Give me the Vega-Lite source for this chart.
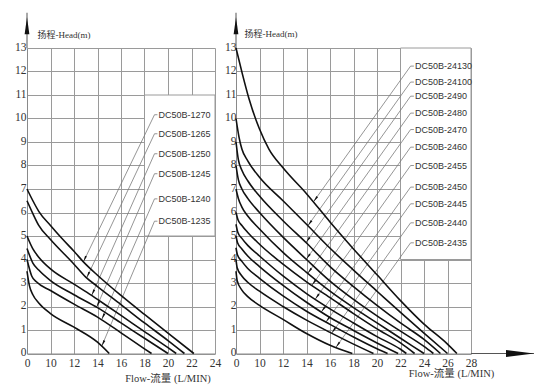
{
  "$schema": "https://vega.github.io/schema/vega-lite/v6.json",
  "padding": {"left": 14, "top": 12, "right": 0, "bottom": 0},
  "spacing": 3,
  "background": "white",
  "config": {
    "view": {"stroke": null},
    "axis": {
      "grid": true, "gridColor": "#9a9a9a", "gridWidth": 1, "gridOpacity": 1,
      "domainColor": "#8a8a8a", "domainWidth": 1, "ticks": false,
      "labelFont": "Liberation Serif", "labelFontSize": 11.5, "labelColor": "#333333",
      "titleFont": "Liberation Serif, Noto Sans CJK SC", "titleFontWeight": "normal", "titleColor": "#333333"
    }
  },
  "datasets": {
    "leftCurves": [
      {"model":"DC50B-1270","flow":0,"head":7.0},{"model":"DC50B-1270","flow":2.5,"head":6.5},{"model":"DC50B-1270","flow":5,"head":6.05},{"model":"DC50B-1270","flow":10,"head":5.45},{"model":"DC50B-1270","flow":11,"head":4.88},{"model":"DC50B-1270","flow":12,"head":4.35},{"model":"DC50B-1270","flow":12.8,"head":3.9},{"model":"DC50B-1270","flow":14,"head":3.33},{"model":"DC50B-1270","flow":16,"head":2.47},{"model":"DC50B-1270","flow":18,"head":1.66},{"model":"DC50B-1270","flow":20,"head":0.87},{"model":"DC50B-1270","flow":22.2,"head":0},
      {"model":"DC50B-1265","flow":0,"head":6.5},{"model":"DC50B-1265","flow":2.5,"head":5.95},{"model":"DC50B-1265","flow":5,"head":5.45},{"model":"DC50B-1265","flow":10,"head":4.85},{"model":"DC50B-1265","flow":12,"head":3.8},{"model":"DC50B-1265","flow":13,"head":3.25},{"model":"DC50B-1265","flow":14,"head":2.85},{"model":"DC50B-1265","flow":16,"head":2.08},{"model":"DC50B-1265","flow":18,"head":1.3},{"model":"DC50B-1265","flow":20,"head":0.55},{"model":"DC50B-1265","flow":21.4,"head":0},
      {"model":"DC50B-1250","flow":0,"head":5.0},{"model":"DC50B-1250","flow":2.5,"head":4.45},{"model":"DC50B-1250","flow":5,"head":4.1},{"model":"DC50B-1250","flow":10,"head":3.6},{"model":"DC50B-1250","flow":12,"head":2.95},{"model":"DC50B-1250","flow":13.5,"head":2.47},{"model":"DC50B-1250","flow":14,"head":2.3},{"model":"DC50B-1250","flow":16,"head":1.62},{"model":"DC50B-1250","flow":18,"head":0.93},{"model":"DC50B-1250","flow":20,"head":0.25},{"model":"DC50B-1250","flow":20.7,"head":0},
      {"model":"DC50B-1245","flow":0,"head":4.47},{"model":"DC50B-1245","flow":2.5,"head":3.85},{"model":"DC50B-1245","flow":5,"head":3.55},{"model":"DC50B-1245","flow":10,"head":3.1},{"model":"DC50B-1245","flow":12,"head":2.5},{"model":"DC50B-1245","flow":14,"head":1.95},{"model":"DC50B-1245","flow":16,"head":1.3},{"model":"DC50B-1245","flow":18,"head":0.65},{"model":"DC50B-1245","flow":20,"head":0},
      {"model":"DC50B-1240","flow":0,"head":4.0},{"model":"DC50B-1240","flow":2,"head":3.3},{"model":"DC50B-1240","flow":4,"head":3.05},{"model":"DC50B-1240","flow":10,"head":2.68},{"model":"DC50B-1240","flow":12,"head":2.1},{"model":"DC50B-1240","flow":14,"head":1.55},{"model":"DC50B-1240","flow":16,"head":0.88},{"model":"DC50B-1240","flow":18,"head":0.2},{"model":"DC50B-1240","flow":18.6,"head":0},
      {"model":"DC50B-1235","flow":0,"head":3.5},{"model":"DC50B-1235","flow":1,"head":2.9},{"model":"DC50B-1235","flow":2.5,"head":2.5},{"model":"DC50B-1235","flow":5,"head":2.15},{"model":"DC50B-1235","flow":10,"head":1.7},{"model":"DC50B-1235","flow":12,"head":1.12},{"model":"DC50B-1235","flow":14,"head":0.48},{"model":"DC50B-1235","flow":15,"head":0}
    ],
    "leftLeaders": [
      {"model":"DC50B-1270","flow":12.8,"head":3.9,"ord":0},{"model":"DC50B-1270","flow":18.85,"head":10.16,"ord":1},{"model":"DC50B-1270","flow":19.1,"head":10.16,"ord":2},
      {"model":"DC50B-1265","flow":13.08,"head":3.22,"ord":0},{"model":"DC50B-1265","flow":18.85,"head":9.35,"ord":1},{"model":"DC50B-1265","flow":19.1,"head":9.35,"ord":2},
      {"model":"DC50B-1250","flow":13.5,"head":2.47,"ord":0},{"model":"DC50B-1250","flow":18.85,"head":8.5,"ord":1},{"model":"DC50B-1250","flow":19.1,"head":8.5,"ord":2},
      {"model":"DC50B-1245","flow":13.92,"head":1.97,"ord":0},{"model":"DC50B-1245","flow":18.85,"head":7.65,"ord":1},{"model":"DC50B-1245","flow":19.1,"head":7.65,"ord":2},
      {"model":"DC50B-1240","flow":14.36,"head":1.45,"ord":0},{"model":"DC50B-1240","flow":18.85,"head":6.58,"ord":1},{"model":"DC50B-1240","flow":19.1,"head":6.58,"ord":2},
      {"model":"DC50B-1235","flow":14.36,"head":0.31,"ord":0},{"model":"DC50B-1235","flow":18.85,"head":5.63,"ord":1},{"model":"DC50B-1235","flow":19.1,"head":5.63,"ord":2}
    ],
    "rightCurves": [
      {"model":"DC50B-24130","flow":0,"head":13},{"model":"DC50B-24130","flow":2.7,"head":11.9},{"model":"DC50B-24130","flow":5.5,"head":10.85},{"model":"DC50B-24130","flow":10,"head":9.55},{"model":"DC50B-24130","flow":10.8,"head":8.7},{"model":"DC50B-24130","flow":12,"head":7.9},{"model":"DC50B-24130","flow":14,"head":6.8},{"model":"DC50B-24130","flow":16,"head":5.6},{"model":"DC50B-24130","flow":18,"head":4.45},{"model":"DC50B-24130","flow":20,"head":3.35},{"model":"DC50B-24130","flow":22,"head":2.25},{"model":"DC50B-24130","flow":24,"head":1.25},{"model":"DC50B-24130","flow":26,"head":0.4},{"model":"DC50B-24130","flow":26.8,"head":0},
      {"model":"DC50B-24100","flow":0,"head":10},{"model":"DC50B-24100","flow":1.3,"head":9.2},{"model":"DC50B-24100","flow":2.5,"head":8.7},{"model":"DC50B-24100","flow":5,"head":8.2},{"model":"DC50B-24100","flow":10,"head":7.5},{"model":"DC50B-24100","flow":12,"head":6.5},{"model":"DC50B-24100","flow":14,"head":5.5},{"model":"DC50B-24100","flow":15.92,"head":4.52},{"model":"DC50B-24100","flow":18,"head":3.55},{"model":"DC50B-24100","flow":20,"head":2.65},{"model":"DC50B-24100","flow":22,"head":1.75},{"model":"DC50B-24100","flow":24,"head":0.87},{"model":"DC50B-24100","flow":26,"head":0},
      {"model":"DC50B-2490","flow":0,"head":9},{"model":"DC50B-2490","flow":1,"head":8.25},{"model":"DC50B-2490","flow":2.5,"head":7.8},{"model":"DC50B-2490","flow":5,"head":7.35},{"model":"DC50B-2490","flow":10,"head":6.7},{"model":"DC50B-2490","flow":12,"head":5.65},{"model":"DC50B-2490","flow":14,"head":4.7},{"model":"DC50B-2490","flow":16,"head":3.7},{"model":"DC50B-2490","flow":18,"head":2.85},{"model":"DC50B-2490","flow":20,"head":2.05},{"model":"DC50B-2490","flow":22,"head":1.3},{"model":"DC50B-2490","flow":24,"head":0.6},{"model":"DC50B-2490","flow":25.4,"head":0},
      {"model":"DC50B-2480","flow":0,"head":8},{"model":"DC50B-2480","flow":1,"head":7.4},{"model":"DC50B-2480","flow":2.5,"head":7.0},{"model":"DC50B-2480","flow":5,"head":6.6},{"model":"DC50B-2480","flow":10,"head":6.0},{"model":"DC50B-2480","flow":12,"head":4.95},{"model":"DC50B-2480","flow":14,"head":4.0},{"model":"DC50B-2480","flow":16,"head":3.08},{"model":"DC50B-2480","flow":18,"head":2.3},{"model":"DC50B-2480","flow":20,"head":1.6},{"model":"DC50B-2480","flow":22,"head":0.95},{"model":"DC50B-2480","flow":24,"head":0.3},{"model":"DC50B-2480","flow":24.8,"head":0},
      {"model":"DC50B-2470","flow":0,"head":7},{"model":"DC50B-2470","flow":1,"head":6.6},{"model":"DC50B-2470","flow":2.5,"head":6.23},{"model":"DC50B-2470","flow":5,"head":5.85},{"model":"DC50B-2470","flow":10,"head":5.3},{"model":"DC50B-2470","flow":12,"head":4.3},{"model":"DC50B-2470","flow":14,"head":3.45},{"model":"DC50B-2470","flow":16,"head":2.65},{"model":"DC50B-2470","flow":18,"head":1.95},{"model":"DC50B-2470","flow":20,"head":1.3},{"model":"DC50B-2470","flow":22,"head":0.65},{"model":"DC50B-2470","flow":24,"head":0},
      {"model":"DC50B-2460","flow":0,"head":6},{"model":"DC50B-2460","flow":0.8,"head":5.7},{"model":"DC50B-2460","flow":2.5,"head":5.45},{"model":"DC50B-2460","flow":5,"head":5.15},{"model":"DC50B-2460","flow":10,"head":4.65},{"model":"DC50B-2460","flow":12,"head":3.8},{"model":"DC50B-2460","flow":14,"head":3.05},{"model":"DC50B-2460","flow":16,"head":2.38},{"model":"DC50B-2460","flow":18,"head":1.7},{"model":"DC50B-2460","flow":20,"head":1.05},{"model":"DC50B-2460","flow":22,"head":0.45},{"model":"DC50B-2460","flow":23.2,"head":0},
      {"model":"DC50B-2455","flow":0,"head":5.5},{"model":"DC50B-2455","flow":0.8,"head":5.15},{"model":"DC50B-2455","flow":2.5,"head":4.9},{"model":"DC50B-2455","flow":5,"head":4.6},{"model":"DC50B-2455","flow":10,"head":4.15},{"model":"DC50B-2455","flow":12,"head":3.3},{"model":"DC50B-2455","flow":14,"head":2.55},{"model":"DC50B-2455","flow":16,"head":1.9},{"model":"DC50B-2455","flow":18,"head":1.3},{"model":"DC50B-2455","flow":20,"head":0.72},{"model":"DC50B-2455","flow":22,"head":0.18},{"model":"DC50B-2455","flow":22.5,"head":0},
      {"model":"DC50B-2450","flow":0,"head":5},{"model":"DC50B-2450","flow":0.7,"head":4.7},{"model":"DC50B-2450","flow":2.5,"head":4.45},{"model":"DC50B-2450","flow":5,"head":4.15},{"model":"DC50B-2450","flow":10,"head":3.7},{"model":"DC50B-2450","flow":12,"head":2.9},{"model":"DC50B-2450","flow":14,"head":2.18},{"model":"DC50B-2450","flow":16,"head":1.53},{"model":"DC50B-2450","flow":18,"head":0.98},{"model":"DC50B-2450","flow":20,"head":0.45},{"model":"DC50B-2450","flow":21.8,"head":0},
      {"model":"DC50B-2445","flow":0,"head":4.5},{"model":"DC50B-2445","flow":0.6,"head":4.2},{"model":"DC50B-2445","flow":2.5,"head":3.92},{"model":"DC50B-2445","flow":5,"head":3.62},{"model":"DC50B-2445","flow":10,"head":3.2},{"model":"DC50B-2445","flow":12,"head":2.45},{"model":"DC50B-2445","flow":14,"head":1.8},{"model":"DC50B-2445","flow":16,"head":1.24},{"model":"DC50B-2445","flow":18,"head":0.7},{"model":"DC50B-2445","flow":20,"head":0.2},{"model":"DC50B-2445","flow":20.9,"head":0},
      {"model":"DC50B-2440","flow":0,"head":4},{"model":"DC50B-2440","flow":0.5,"head":3.65},{"model":"DC50B-2440","flow":2.5,"head":3.3},{"model":"DC50B-2440","flow":5,"head":3.03},{"model":"DC50B-2440","flow":10,"head":2.65},{"model":"DC50B-2440","flow":12,"head":2.0},{"model":"DC50B-2440","flow":14,"head":1.42},{"model":"DC50B-2440","flow":16,"head":0.9},{"model":"DC50B-2440","flow":18,"head":0.4},{"model":"DC50B-2440","flow":19.7,"head":0},
      {"model":"DC50B-2435","flow":0,"head":3.5},{"model":"DC50B-2435","flow":0.5,"head":3.1},{"model":"DC50B-2435","flow":2.5,"head":2.7},{"model":"DC50B-2435","flow":5,"head":2.42},{"model":"DC50B-2435","flow":10,"head":2.05},{"model":"DC50B-2435","flow":12,"head":1.45},{"model":"DC50B-2435","flow":14,"head":0.85},{"model":"DC50B-2435","flow":16,"head":0.35},{"model":"DC50B-2435","flow":17.9,"head":0}
    ],
    "rightLeaders": [
      {"model":"DC50B-24130","flow":14.6,"head":6.46,"ord":0},{"model":"DC50B-24130","flow":22.86,"head":12.23,"ord":1},{"model":"DC50B-24130","flow":23.14,"head":12.23,"ord":2},
      {"model":"DC50B-24100","flow":14.12,"head":5.44,"ord":0},{"model":"DC50B-24100","flow":22.86,"head":11.55,"ord":1},{"model":"DC50B-24100","flow":23.14,"head":11.55,"ord":2},
      {"model":"DC50B-2490","flow":13.96,"head":4.72,"ord":0},{"model":"DC50B-2490","flow":22.86,"head":10.95,"ord":1},{"model":"DC50B-2490","flow":23.14,"head":10.95,"ord":2},
      {"model":"DC50B-2480","flow":13.98,"head":4.01,"ord":0},{"model":"DC50B-2480","flow":22.86,"head":10.23,"ord":1},{"model":"DC50B-2480","flow":23.14,"head":10.23,"ord":2},
      {"model":"DC50B-2470","flow":14.1,"head":3.4,"ord":0},{"model":"DC50B-2470","flow":22.86,"head":9.53,"ord":1},{"model":"DC50B-2470","flow":23.14,"head":9.53,"ord":2},
      {"model":"DC50B-2460","flow":14.46,"head":2.9,"ord":0},{"model":"DC50B-2460","flow":22.86,"head":8.78,"ord":1},{"model":"DC50B-2460","flow":23.14,"head":8.78,"ord":2},
      {"model":"DC50B-2455","flow":14.74,"head":2.31,"ord":0},{"model":"DC50B-2455","flow":22.86,"head":8.0,"ord":1},{"model":"DC50B-2455","flow":23.14,"head":8.0,"ord":2},
      {"model":"DC50B-2450","flow":15.26,"head":1.77,"ord":0},{"model":"DC50B-2450","flow":22.86,"head":7.08,"ord":1},{"model":"DC50B-2450","flow":23.14,"head":7.08,"ord":2},
      {"model":"DC50B-2445","flow":15.66,"head":1.34,"ord":0},{"model":"DC50B-2445","flow":22.86,"head":6.37,"ord":1},{"model":"DC50B-2445","flow":23.14,"head":6.37,"ord":2},
      {"model":"DC50B-2440","flow":16.14,"head":0.86,"ord":0},{"model":"DC50B-2440","flow":22.86,"head":5.56,"ord":1},{"model":"DC50B-2440","flow":23.14,"head":5.56,"ord":2},
      {"model":"DC50B-2435","flow":16.5,"head":0.26,"ord":0},{"model":"DC50B-2435","flow":22.86,"head":4.71,"ord":1},{"model":"DC50B-2435","flow":23.14,"head":4.71,"ord":2}
    ],
    "leftBox": [{"flow":18,"flow2":24,"head":5,"head2":11}],
    "rightBox": [{"flow":22,"flow2":28,"head":4,"head2":13}],
    "yArrow": [{"flow":0,"head":13,"head2":14.5}],
    "yArrowHead": [{"flow":0,"head":13.95}],
    "xArrow": [{"flow":28,"flow2":33.36,"head":0}],
    "xArrowHead": [{"flow":32.17,"head":0}]
  },
  "hconcat": [
    {
      "width": 188,
      "height": 305.5,
      "encoding": {
        "x": {"field": "flow", "type": "quantitative",
              "scale": {"domain": [0, 10, 24], "range": [0, 23.5, 188], "nice": false, "zero": false},
              "axis": {"values": [0, 10, 12, 14, 16, 18, 20, 22, 24], "title": "Flow-流量 (L/MIN)", "titleX": 140.5, "titleY": 25, "titleAlign": "center", "titleBaseline": "middle", "titleFontSize": 10.5, "labelFlush": false, "labelPadding": 4}},
        "y": {"field": "head", "type": "quantitative",
              "scale": {"domain": [0, 13], "nice": false, "zero": true},
              "axis": {"values": [0,1,2,3,4,5,6,7,8,9,10,11,12,13], "title": "扬程-Head(m)", "titleAngle": 0, "titleX": 10, "titleY": -14, "titleAlign": "left", "titleBaseline": "middle", "titleFontSize": 9, "labelPadding": 1, "labelOffset": -1}}
      },
      "layer": [
        {"data": {"name": "leftBox"}, "mark": {"type": "rect", "fill": "white", "stroke": "#9a9a9a", "strokeWidth": 1},
         "encoding": {"x2": {"field": "flow2"}, "y2": {"field": "head2"}}},
        {"data": {"name": "leftLeaders"}, "mark": {"type": "line", "color": "#7a7a7a", "strokeWidth": 0.8},
         "encoding": {"detail": {"field": "model"}, "order": {"field": "ord", "type": "quantitative"}}},
        {"data": {"name": "leftCurves"}, "mark": {"type": "line", "color": "#111111", "strokeWidth": 1.6, "interpolate": "monotone"},
         "encoding": {"detail": {"field": "model"}}},
        {"data": {"name": "leftLeaders"}, "transform": [{"filter": "datum.ord == 0"}],
         "mark": {"type": "point", "shape": "M0,0L-0.3,-1.8L0.3,-1.8Z", "size": 49, "filled": true, "color": "#111111", "opacity": 1, "angle": 24.5}},
        {"data": {"name": "leftLeaders"}, "transform": [{"filter": "datum.ord == 2"}],
         "mark": {"type": "text", "align": "left", "baseline": "middle", "dx": 1, "font": "Liberation Sans", "fontSize": 9, "color": "#333333"},
         "encoding": {"text": {"field": "model"}}},
        {"data": {"name": "yArrow"}, "mark": {"type": "rule", "color": "#555555", "strokeWidth": 1},
         "encoding": {"y2": {"field": "head2"}}},
        {"data": {"name": "yArrowHead"}, "mark": {"type": "point", "shape": "M0,-1L0.28,1L-0.28,1Z", "size": 289, "filled": true, "color": "#111111", "opacity": 1}}
      ]
    },
    {
      "width": 235,
      "height": 305.5,
      "encoding": {
        "x": {"field": "flow", "type": "quantitative",
              "scale": {"domain": [0, 10, 28], "range": [0, 23.5, 235], "nice": false, "zero": false},
              "axis": {"values": [0, 10, 12, 14, 16, 18, 20, 22, 24, 26, 28], "title": "Flow-流量 (L/MIN)", "titleX": 215, "titleY": 20, "titleAlign": "center", "titleBaseline": "middle", "titleFontSize": 10.5, "labelFlush": false, "labelPadding": 4}},
        "y": {"field": "head", "type": "quantitative",
              "scale": {"domain": [0, 13], "nice": false, "zero": true},
              "axis": {"values": [0,1,2,3,4,5,6,7,8,9,10,11,12,13], "title": "扬程-Head(m)", "titleAngle": 0, "titleX": 8, "titleY": -15, "titleAlign": "left", "titleBaseline": "middle", "titleFontSize": 9, "labelPadding": 0, "labelOffset": -1}}
      },
      "layer": [
        {"data": {"name": "rightBox"}, "mark": {"type": "rect", "fill": "white", "stroke": "#9a9a9a", "strokeWidth": 1},
         "encoding": {"x2": {"field": "flow2"}, "y2": {"field": "head2"}}},
        {"data": {"name": "rightLeaders"}, "mark": {"type": "line", "color": "#7a7a7a", "strokeWidth": 0.8},
         "encoding": {"detail": {"field": "model"}, "order": {"field": "ord", "type": "quantitative"}}},
        {"data": {"name": "rightCurves"}, "mark": {"type": "line", "color": "#111111", "strokeWidth": 1.6, "interpolate": "monotone"},
         "encoding": {"detail": {"field": "model"}}},
        {"data": {"name": "rightLeaders"}, "transform": [{"filter": "datum.ord == 0"}],
         "mark": {"type": "point", "shape": "M0,0L-0.3,-1.8L0.3,-1.8Z", "size": 49, "filled": true, "color": "#111111", "opacity": 1, "angle": 35.5}},
        {"data": {"name": "rightLeaders"}, "transform": [{"filter": "datum.ord == 2"}],
         "mark": {"type": "text", "align": "left", "baseline": "middle", "dx": 1, "font": "Liberation Sans", "fontSize": 9, "color": "#333333"},
         "encoding": {"text": {"field": "model"}}},
        {"data": {"name": "yArrow"}, "mark": {"type": "rule", "color": "#555555", "strokeWidth": 1},
         "encoding": {"y2": {"field": "head2"}}},
        {"data": {"name": "yArrowHead"}, "mark": {"type": "point", "shape": "M0,-1L0.28,1L-0.28,1Z", "size": 289, "filled": true, "color": "#111111", "opacity": 1}},
        {"data": {"name": "xArrow"}, "mark": {"type": "rule", "color": "#555555", "strokeWidth": 1},
         "encoding": {"x2": {"field": "flow2"}}},
        {"data": {"name": "xArrowHead"}, "mark": {"type": "point", "shape": "M1,0L-1,-0.25L-1,0.25Z", "size": 784, "filled": true, "color": "#111111", "opacity": 1}}
      ]
    }
  ]
}
